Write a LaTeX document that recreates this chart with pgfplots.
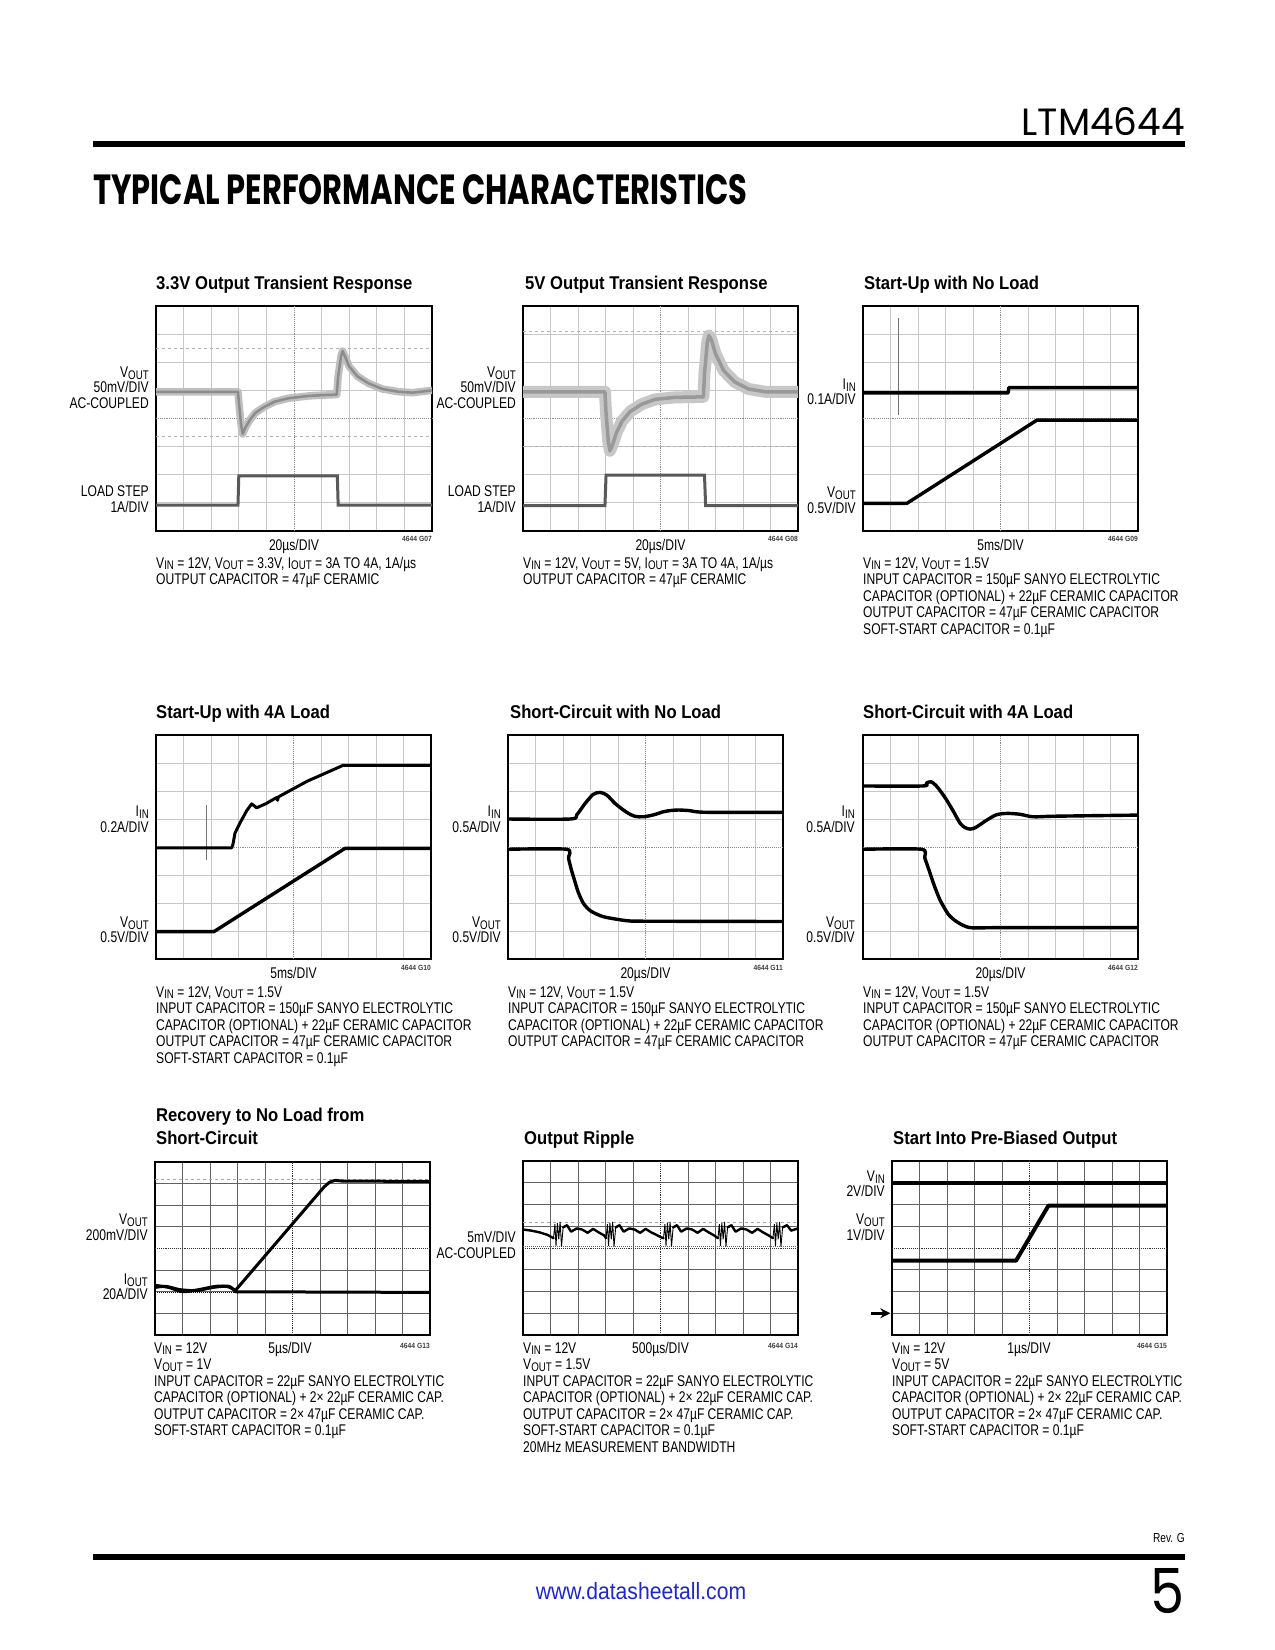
\documentclass[border=0pt]{standalone}
\usepackage{fontspec}
\usepackage{graphicx}
\usepackage{pgfplots}
\usepackage{pgfplotstable}
\pgfplotsset{compat=1.18}
\usetikzlibrary{arrows.meta}
\newfontfamily\nfont{Liberation Sans}[FakeStretch=0.78]
\newfontfamily\tfont{Liberation Sans}[FakeStretch=0.9]
\newfontfamily\pfont{Poppins}
\definecolor{urlblue}{RGB}{30,40,200}
\newcommand\NT{\fontsize{15.5}{16.5}\nfont}
\newcommand\TT{\fontsize{18.5}{20}\tfont\bfseries}
\newcommand\s[1]{\raisebox{-0.12em}{\fontsize{12.5}{12.5}\selectfont #1}}
\newcommand\R[3]{\node[anchor=base east,inner sep=0pt,font=\NT] at (#1pt,-#2pt) {#3};}
\newcommand\Lf[3]{\node[anchor=base west,inner sep=0pt,font=\NT] at (#1pt,-#2pt) {#3};}
\newcommand\Ce[3]{\node[anchor=base,inner sep=0pt,font=\NT] at (#1pt,-#2pt) {#3};}
\newcommand\Ti[3]{\node[anchor=base west,inner sep=0pt,font=\TT] at (#1pt,-#2pt) {#3};}
\newcommand\G[3]{\node[anchor=base east,inner sep=0pt,font={\fontsize{7.5}{8}\tfont\bfseries},text=black!75] at (#1pt,-#2pt) {#3};}

\pgfplotsset{
  osc/.style={scale only axis, anchor=north west,
    xmin=0,xmax=10,ymin=0,ymax=8,
    xtick={1,2,3,4,6,7,8,9}, ytick={1,2,3,5,6,7},
    extra x ticks={5}, extra y ticks={4},
    xticklabels={}, yticklabels={}, extra x tick labels={}, extra y tick labels={},
    major tick length=0pt, grid=major,
    grid style={black!22, line width=0.9pt},
    extra tick style={grid style={black!45, densely dotted, line width=0.9pt}},
    axis line style={line width=1.6pt, black}},
  oscdark/.style={osc, grid style={black!62, line width=0.9pt},
    extra tick style={grid style={black!80, densely dotted, line width=0.9pt}}},
}
\tikzset{tr/.style={black, line width=3.4pt, line join=round, line cap=round},
  thin tr/.style={black!55, line width=1pt}}

% ---- data ----
\pgfplotstableread{
x y
0 4.95
2.97 4.95
3.0 4.6
3.08 3.8
3.14 3.45
3.25 3.7
3.4 3.95
3.6 4.2
3.9 4.4
4.3 4.6
4.8 4.72
5.5 4.8
6.0 4.83
6.55 4.85
6.6 5.5
6.7 6.2
6.76 6.4
6.85 6.2
7.0 5.85
7.3 5.5
7.7 5.25
8.2 5.05
8.8 4.95
9.3 4.92
10 5.0
}\aV
\pgfplotstableread{
x y
0 0.92
2.97 0.92
3.0 1.96
6.57 1.96
6.6 0.92
10 0.92
}\aI
\pgfplotstableread{
x y
0 4.95
2.98 4.95
3.02 4.2
3.1 3.2
3.16 2.85
3.25 3.05
3.4 3.5
3.6 3.9
3.9 4.25
4.3 4.5
4.8 4.68
5.5 4.75
6.56 4.77
6.6 5.6
6.7 6.7
6.76 6.95
6.85 6.8
7.0 6.3
7.3 5.7
7.7 5.3
8.2 5.05
8.8 4.95
10 4.95
}\bV
\pgfplotstableread{
x y
0 0.9
2.98 0.9
3.02 1.99
6.6 1.99
6.64 0.9
10 0.9
}\bI

\begin{document}
\begin{tikzpicture}
\fill[white] (0pt,0pt) rectangle (1275pt,-1650pt);
\path[use as bounding box] (0pt,0pt) rectangle (1275pt,-1650pt);

% header
\node[anchor=base east,inner sep=0pt] at (1185pt,-135pt) {\resizebox{163pt}{28pt}{\pfont LTM4644}};
\fill[black] (93pt,-141pt) rectangle (1185pt,-147pt);
\node[anchor=base west,inner sep=0pt] at (93pt,-204pt) {\resizebox{654pt}{30pt}{\pfont\bfseries TYPICAL PERFORMANCE CHARACTERISTICS}};

% ===== Chart 1 =====
\begin{axis}[osc, at={(156pt,-306pt)}, width=276pt, height=225pt]
\addplot[gray!60, dashed, line width=0.9pt] coordinates {(0,6.48)(10,6.48)};
\addplot[gray!60, dashed, line width=0.9pt] coordinates {(0,3.37)(10,3.37)};
\addplot[black!25, line width=7.5pt, line join=round] table {\aV};
\addplot[black!45, line width=2.5pt, line join=round] table {\aV};
\addplot[black!65, line width=3pt] table {\aI};
\end{axis}
% ===== Chart 2 =====
\begin{axis}[osc, at={(523pt,-306pt)}, width=275pt, height=225pt]
\addplot[gray!60, dashed, line width=0.9pt] coordinates {(0,7.11)(10,7.11)};
\addplot[gray!60, dashed, line width=0.9pt] coordinates {(0,3.0)(10,3.0)};
\addplot[black!22, line width=12pt, line join=round] table {\bV};
\addplot[black!40, line width=3.5pt, line join=round] table {\bV};
\addplot[black!65, line width=3pt] table {\bI};
\end{axis}
% ===== Chart 3 =====
\begin{axis}[osc, at={(863pt,-306pt)}, width=275pt, height=225pt]
\addplot[thin tr] coordinates {(1.28,4.12)(1.28,7.56)};
\addplot[tr] coordinates {(0,4.91)(5.28,4.91)(5.3,5.1)(10,5.1)};
\addplot[tr] coordinates {(0,0.98)(1.59,0.98)(6.32,3.94)(10,3.94)};
\end{axis}
% ===== Chart 4 =====
\begin{axis}[osc, at={(156pt,-735pt)}, width=275pt, height=224pt]
\addplot[thin tr] coordinates {(1.82,3.54)(1.82,5.5)};
\addplot[tr, line width=3pt] coordinates {(0,3.97)(2.75,3.97)(2.8,4.1)(2.87,4.49)(3.05,4.85)(3.3,5.3)(3.48,5.54)(3.66,5.4)(4.0,5.55)(4.39,5.77)(4.42,5.67)(4.45,5.79)(5.5,6.35)(6.81,6.92)(10,6.92)};
\addplot[tr] coordinates {(0,0.98)(2.11,0.98)(6.87,3.95)(10,3.95)};
\end{axis}
% ===== Chart 5 =====
\begin{axis}[osc, at={(508pt,-735pt)}, width=275pt, height=224pt]
\addplot[tr, smooth, tension=0.5] coordinates {(0,5.0)(2.25,5.0)(2.5,5.15)(2.8,5.55)(3.1,5.88)(3.35,5.95)(3.6,5.85)(3.9,5.55)(4.3,5.25)(4.6,5.1)(4.92,5.08)(5.3,5.15)(5.7,5.27)(6.13,5.32)(6.6,5.3)(7.2,5.24)(10,5.24)};
\addplot[tr, smooth, tension=0.4] coordinates {(0,3.92)(2.13,3.92)(2.2,3.6)(2.3,3.2)(2.38,2.94)(2.55,2.4)(2.74,1.99)(3.0,1.72)(3.47,1.51)(4.3,1.37)(5.0,1.35)(10,1.34)};
\end{axis}
% ===== Chart 6 =====
\begin{axis}[osc, at={(863pt,-735pt)}, width=275pt, height=224pt]
\addplot[tr, smooth, tension=0.5] coordinates {(0,6.18)(2.17,6.18)(2.3,6.28)(2.47,6.33)(2.65,6.2)(2.85,5.95)(3.04,5.68)(3.3,5.25)(3.53,4.85)(3.7,4.7)(3.89,4.64)(4.1,4.7)(4.5,4.96)(4.85,5.15)(5.23,5.2)(5.7,5.17)(6.19,5.08)(7,5.1)(10,5.14)};
\addplot[tr, smooth, tension=0.4] coordinates {(0,3.92)(2.13,3.92)(2.25,3.6)(2.44,3.06)(2.6,2.6)(2.8,2.11)(3.1,1.6)(3.41,1.33)(3.89,1.12)(5,1.12)(10,1.12)};
\end{axis}
% ===== Chart 7 =====
\begin{axis}[oscdark, at={(155pt,-1162pt)}, width=275pt, height=173pt]
\addplot[gray!70, dashed, line width=0.9pt] coordinates {(0,7.2)(10,7.2)};
\addplot[black, densely dotted, line width=1pt] coordinates {(0,1.97)(3,1.97)};
\addplot[tr, line width=3pt, smooth, tension=0.4] coordinates {(0,2.2)(0.4,2.25)(0.9,2.1)(1.5,2.05)(2.1,2.2)(2.6,2.25)(2.93,2.07)};
\addplot[tr, line width=3pt] coordinates {(2.93,2.07)(6.15,6.85)(6.35,7.07)(6.55,7.15)(6.8,7.12)(10,7.1)};
\addplot[tr, line width=3pt, smooth, tension=0.4] coordinates {(0,2.3)(0.5,2.2)(1.0,2.0)(1.6,2.1)(2.2,2.25)(2.7,2.25)(2.93,2.0)};
\addplot[tr, line width=3pt] coordinates {(2.93,2.0)(10,1.97)};
\end{axis}
% ===== Chart 8 =====
\begin{axis}[oscdark, at={(523pt,-1161pt)}, width=275pt, height=174pt]
\addplot[gray!70, dashed, line width=0.9pt] coordinates {(0,5.18)(10,5.18)};
\addplot[black!60, densely dotted, line width=1pt] coordinates {(0,4.06)(10,4.06)};
\addplot[tr, line width=2.4pt] coordinates {(0,4.85)(0.3,4.8)(0.6,4.72)(0.9,4.6)(1.11,4.45)};
\addplot[black, line width=0.9pt] coordinates {(1.11,4.45)(1.16,5.1)(1.2,4.1)(1.25,5.15)(1.3,4.4)(1.35,5.2)(1.4,4.06)(1.46,4.95)};
\addplot[tr, line width=2.4pt] coordinates {(1.46,4.95)(1.6,5.05)(1.75,4.75)(1.95,4.9)(2.15,4.85)(2.35,4.7)(2.55,4.88)(2.75,4.72)(2.95,4.58)(3.02,4.45)};
\addplot[black, line width=0.9pt] coordinates {(3.02,4.45)(3.07,5.1)(3.11,4.1)(3.16,5.15)(3.21,4.4)(3.26,5.2)(3.31,4.06)(3.37,4.95)};
\addplot[tr, line width=2.4pt] coordinates {(3.37,4.95)(3.51,5.05)(3.66,4.75)(3.86,4.9)(4.06,4.85)(4.26,4.7)(4.46,4.88)(4.66,4.72)(4.86,4.6)(5.04,4.48)(5.11,4.45)};
\addplot[black, line width=0.9pt] coordinates {(5.11,4.45)(5.16,5.1)(5.2,4.1)(5.25,5.15)(5.3,4.4)(5.35,5.2)(5.4,4.06)(5.46,4.95)};
\addplot[tr, line width=2.4pt] coordinates {(5.46,4.95)(5.6,5.05)(5.75,4.75)(5.95,4.9)(6.15,4.85)(6.35,4.7)(6.55,4.88)(6.75,4.72)(6.95,4.58)(7.09,4.45)};
\addplot[black, line width=0.9pt] coordinates {(7.09,4.45)(7.14,5.1)(7.18,4.1)(7.23,5.15)(7.28,4.4)(7.33,5.2)(7.38,4.06)(7.44,4.95)};
\addplot[tr, line width=2.4pt] coordinates {(7.44,4.95)(7.58,5.05)(7.73,4.75)(7.93,4.9)(8.13,4.85)(8.33,4.7)(8.53,4.88)(8.73,4.72)(8.93,4.58)(9.09,4.45)};
\addplot[black, line width=0.9pt] coordinates {(9.09,4.45)(9.14,5.1)(9.18,4.1)(9.23,5.15)(9.28,4.4)(9.33,5.2)(9.38,4.06)(9.44,4.95)};
\addplot[tr, line width=2.4pt] coordinates {(9.44,4.95)(9.6,5.05)(9.75,4.8)(10,4.9)};
\end{axis}
% ===== Chart 9 =====
\begin{axis}[oscdark, at={(892pt,-1161pt)}, width=275pt, height=174pt, clip=false]
\addplot[tr, line width=4pt, line cap=butt] coordinates {(0,7.0)(10,7.0)};
\addplot[tr, line width=4pt, line cap=butt] coordinates {(0,3.42)(4.51,3.42)(5.69,5.95)(10,5.95)};
\draw[-{Stealth[length=10pt,width=10pt]}, line width=2.6pt] (axis cs:-0.75,1) -- (axis cs:-0.06,1);
\end{axis}

% ---- titles ----
\Ti{156}{289.3}{3.3V Output Transient Response}
\Ti{525}{289.3}{5V Output Transient Response}
\Ti{864}{289.3}{Start-Up with No Load}
\Ti{156}{718.3}{Start-Up with 4A Load}
\Ti{510}{718.3}{Short-Circuit with No Load}
\Ti{863}{718.3}{Short-Circuit with 4A Load}
\Ti{156}{1121.7}{Recovery to No Load from}
\Ti{156}{1144.3}{Short-Circuit}
\Ti{524}{1144.3}{Output Ripple}
\Ti{893}{1144.3}{Start Into Pre-Biased Output}

% ---- left labels ----
\R{149}{377.8}{V\s{OUT}}
\R{149}{392.7}{50mV/DIV}
\R{149}{408.7}{AC-COUPLED}
\R{149}{496}{LOAD STEP}
\R{149}{512.7}{1A/DIV}
\R{516}{377.8}{V\s{OUT}}
\R{516}{392.7}{50mV/DIV}
\R{516}{408.7}{AC-COUPLED}
\R{516}{496}{LOAD STEP}
\R{516}{512.7}{1A/DIV}
\R{856}{389.5}{I\s{IN}}
\R{856}{404.3}{0.1A/DIV}
\R{856}{497.8}{V\s{OUT}}
\R{856}{513.3}{0.5V/DIV}
\R{149}{816.2}{I\s{IN}}
\R{149}{832.3}{0.2A/DIV}
\R{149}{927.8}{V\s{OUT}}
\R{149}{942.7}{0.5V/DIV}
\R{501}{816.2}{I\s{IN}}
\R{501}{832.3}{0.5A/DIV}
\R{501}{927.8}{V\s{OUT}}
\R{501}{942.7}{0.5V/DIV}
\R{855}{816.2}{I\s{IN}}
\R{855}{832.3}{0.5A/DIV}
\R{855}{927.8}{V\s{OUT}}
\R{855}{942.7}{0.5V/DIV}
\R{148}{1224.5}{V\s{OUT}}
\R{148}{1240}{200mV/DIV}
\R{148}{1284.5}{I\s{OUT}}
\R{148}{1299.5}{20A/DIV}
\R{516}{1242.3}{5mV/DIV}
\R{516}{1258.3}{AC-COUPLED}
\R{885}{1181.2}{V\s{IN}}
\R{885}{1196.7}{2V/DIV}
\R{885}{1224.5}{V\s{OUT}}
\R{885}{1240}{1V/DIV}

% ---- time bases & figure codes ----
\Ce{294}{550}{20µs/DIV}
\Ce{660.5}{550}{20µs/DIV}
\Ce{1000.5}{550}{5ms/DIV}
\G{432}{541.5}{4644 G07}
\G{798}{541.5}{4644 G08}
\G{1138}{541.5}{4644 G09}
\Ce{293.5}{978.3}{5ms/DIV}
\Ce{645.5}{978.3}{20µs/DIV}
\Ce{1000.5}{978.3}{20µs/DIV}
\G{431}{970}{4644 G10}
\G{783}{970}{4644 G11}
\G{1138}{970}{4644 G12}
\Ce{290}{1353}{5µs/DIV}
\Ce{660.5}{1353}{500µs/DIV}
\Ce{1029}{1353}{1µs/DIV}
\G{430}{1348}{4644 G13}
\G{798}{1348}{4644 G14}
\G{1167}{1348}{4644 G15}

% ---- notes row 1 ----
\Lf{156}{568}{V\s{IN} = 12V, V\s{OUT} = 3.3V, I\s{OUT} = 3A TO 4A, 1A/µs}
\Lf{156}{584.5}{OUTPUT CAPACITOR = 47µF CERAMIC}
\Lf{523}{568}{V\s{IN} = 12V, V\s{OUT} = 5V, I\s{OUT} = 3A TO 4A, 1A/µs}
\Lf{523}{584.5}{OUTPUT CAPACITOR = 47µF CERAMIC}
\Lf{863}{568}{V\s{IN} = 12V, V\s{OUT} = 1.5V}
\Lf{863}{584.5}{INPUT CAPACITOR = 150µF SANYO ELECTROLYTIC}
\Lf{863}{601}{CAPACITOR (OPTIONAL) + 22µF CERAMIC CAPACITOR}
\Lf{863}{617.5}{OUTPUT CAPACITOR = 47µF CERAMIC CAPACITOR}
\Lf{863}{634}{SOFT-START CAPACITOR = 0.1µF}
% ---- notes row 2 ----
\Lf{156}{997}{V\s{IN} = 12V, V\s{OUT} = 1.5V}
\Lf{156}{1013.5}{INPUT CAPACITOR = 150µF SANYO ELECTROLYTIC}
\Lf{156}{1030}{CAPACITOR (OPTIONAL) + 22µF CERAMIC CAPACITOR}
\Lf{156}{1046.5}{OUTPUT CAPACITOR = 47µF CERAMIC CAPACITOR}
\Lf{156}{1063}{SOFT-START CAPACITOR = 0.1µF}
\Lf{508}{997}{V\s{IN} = 12V, V\s{OUT} = 1.5V}
\Lf{508}{1013.5}{INPUT CAPACITOR = 150µF SANYO ELECTROLYTIC}
\Lf{508}{1030}{CAPACITOR (OPTIONAL) + 22µF CERAMIC CAPACITOR}
\Lf{508}{1046.5}{OUTPUT CAPACITOR = 47µF CERAMIC CAPACITOR}
\Lf{863}{997}{V\s{IN} = 12V, V\s{OUT} = 1.5V}
\Lf{863}{1013.5}{INPUT CAPACITOR = 150µF SANYO ELECTROLYTIC}
\Lf{863}{1030}{CAPACITOR (OPTIONAL) + 22µF CERAMIC CAPACITOR}
\Lf{863}{1046.5}{OUTPUT CAPACITOR = 47µF CERAMIC CAPACITOR}
% ---- notes row 3 ----
\Lf{154}{1353}{V\s{IN} = 12V}
\Lf{154}{1369.5}{V\s{OUT} = 1V}
\Lf{154}{1386}{INPUT CAPACITOR = 22µF SANYO ELECTROLYTIC}
\Lf{154}{1402.5}{CAPACITOR (OPTIONAL) + 2× 22µF CERAMIC CAP.}
\Lf{154}{1419}{OUTPUT CAPACITOR = 2× 47µF CERAMIC CAP.}
\Lf{154}{1435.5}{SOFT-START CAPACITOR = 0.1µF}
\Lf{523}{1353}{V\s{IN} = 12V}
\Lf{523}{1369.5}{V\s{OUT} = 1.5V}
\Lf{523}{1386}{INPUT CAPACITOR = 22µF SANYO ELECTROLYTIC}
\Lf{523}{1402.5}{CAPACITOR (OPTIONAL) + 2× 22µF CERAMIC CAP.}
\Lf{523}{1419}{OUTPUT CAPACITOR = 2× 47µF CERAMIC CAP.}
\Lf{523}{1435.5}{SOFT-START CAPACITOR = 0.1µF}
\Lf{523}{1452}{20MHz MEASUREMENT BANDWIDTH}
\Lf{892}{1353}{V\s{IN} = 12V}
\Lf{892}{1369.5}{V\s{OUT} = 5V}
\Lf{892}{1386}{INPUT CAPACITOR = 22µF SANYO ELECTROLYTIC}
\Lf{892}{1402.5}{CAPACITOR (OPTIONAL) + 2× 22µF CERAMIC CAP.}
\Lf{892}{1419}{OUTPUT CAPACITOR = 2× 47µF CERAMIC CAP.}
\Lf{892}{1435.5}{SOFT-START CAPACITOR = 0.1µF}

% ---- footer ----
\node[anchor=base east,inner sep=0pt,font={\fontsize{13}{13}\nfont}] at (1185pt,-1542pt) {Rev. G};
\fill[black] (93pt,-1554pt) rectangle (1185pt,-1560pt);
\node[anchor=base,inner sep=0pt,font={\fontsize{23.5}{23.5}\tfont},text=urlblue] at (641pt,-1599pt) {www.datasheetall.com};
\node[anchor=base east,inner sep=0pt] at (1185pt,-1613pt) {\resizebox{34pt}{45pt}{\pfont 5}};
\end{tikzpicture}
\end{document}
